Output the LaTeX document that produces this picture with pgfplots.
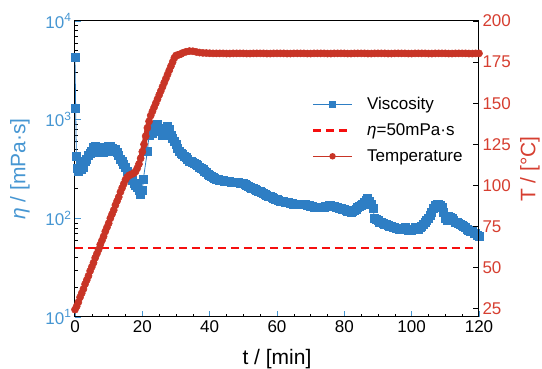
\documentclass[border=0pt]{standalone}
\usepackage{fontspec}
\setmainfont{Liberation Sans}
\usepackage{pgfplots}
\usepackage{pgfplotstable}
\pgfplotsset{compat=1.18}
\definecolor{vblue}{RGB}{46,126,196}
\definecolor{lblue}{RGB}{70,150,210}
\definecolor{tred}{RGB}{200,52,38}
\definecolor{lred}{RGB}{214,62,48}
\definecolor{dred}{RGB}{245,15,15}

\pgfplotstableread{
t eta
0 4300
0.2 1300
0.4 420
0.6 320
1 300
1.5 340
2 310
2.5 330
3 380
3.5 400
4 430
4.5 460
5 480
5.5 520
6 540
6.5 500
7 470
7.5 520
8 500
8.5 470
9 480
9.5 520
10 540
10.5 530
11 510
11.5 480
12 500
12.5 470
13 430
13.5 400
14 380
14.5 350
15 330
15.5 300
16 280
16.5 260
17 240
17.5 225
18 215
18.5 205
19 190
19.5 175
20 190
20.3 250
21.5 480
22 700
22.5 780
23 720
23.5 850
24 880
24.5 900
25 820
25.5 760
26 700
26.5 780
27 820
27.5 850
28 800
28.5 700
29 640
29.5 600
30 560
30.5 510
31 480
31.5 460
32 440
32.5 425
33 410
33.5 395
34 380
34.5 375
35 370
35.5 360
36 350
36.5 340
37 330
37.5 320
38 310
38.5 300
39 290
39.5 280
40 270
40.5 265
41 260
41.5 255
42 250
42.5 248
43 245
43.5 242
44 240
44.5 239
45 238
45.5 236
46 235
46.5 233
47 232
47.5 231
48 230
48.5 229
49 228
49.5 227
50 225
50.5 220
51 215
51.5 210
52 205
52.5 202
53 200
53.5 196
54 192
54.5 189
55 186
55.5 183
56 180
56.5 176
57 172
57.5 168
58 165
58.5 162
59 160
59.5 157
60 155
60.5 152
61 150
61.5 149
62 148
62.5 146
63 145
63.5 144
64 143
64.5 141
65 140
65.5 140
66 140
66.5 139
67 138
67.5 138
68 138
68.5 137
69 136
69.5 134
70 133
70.5 131
71 130
71.5 129
72 128
72.5 128
73 128
73.5 129
74 130
74.5 131
75 133
75.5 134
76 135
76.5 133
77 132
77.5 130
78 128
78.5 126
79 125
79.5 123
80 122
80.5 120
81 118
81.5 117
82 116
82.5 118
83 120
83.5 124
84 128
84.5 131
85 135
85.5 140
86 145
86.5 152
87 160
87.5 150
88 140
88.5 125
89 100
89.5 97
90 95
90.5 92
91 90
91.5 88
92 87
92.5 86
93 85
93.5 83
94 82
94.5 81
95 80
95.5 79
96 79
96.5 78
97 78
97.5 79
98 80
98.5 77
99 75
99.5 75
100 76
100.5 78
101 80
101.5 79
102 78
102.5 80
103 82
103.5 86
104 90
104.5 95
105 100
105.5 107
106 115
106.5 125
107 135
107.5 138
108 140
108.5 135
109 130
109.5 115
110 100
110.5 95
111 105
111.5 102
112 100
112.5 96
113 92
113.5 90
114 88
114.5 86
115 85
115.5 82
116 80
116.5 77
117 75
117.5 74
118 73
118.5 71
119 70
119.5 67
120 65
}\visc

\pgfplotstableread{
t T
0 24.5
0.5 26.5
1 29
1.5 32
2 34.5
2.5 37
3 40
3.5 42.5
4 45
4.5 48
5 50.5
5.5 53
6 56
6.5 58.5
7 61
7.5 64
8 66.5
8.5 69
9 72
9.5 74.5
10 77
10.5 80
11 82.5
11.5 85
12 88
12.5 90.5
13 93
13.5 96
14 98.5
14.5 101
15 103.5
15.5 105
16 106
16.5 106.5
17 107
17.5 107.5
18 108.5
18.5 110.5
19 113
19.5 116.5
20 120.5
20.5 125
21 130
21.5 135
22 139
22.5 142.5
23 145
23.5 147.5
24 150
24.5 152.5
25 155
25.5 157.5
26 160
26.5 162.5
27 165
27.5 167.5
28 170
28.5 172.5
29 175
29.5 177.5
30 179
30.5 179.3
31 179.6
31.5 180
32 180.6
33 181.3
34 181.7
35 181.6
36 181.2
37 180.8
38 180.6
39 180.5
40 180.4
41 180.3
42 180.3
43 180.3
44 180.3
45 180.2
46 180.2
47 180.3
48 180.3
49 180.3
50 180.3
51 180.2
52 180.2
53 180.3
54 180.3
55 180.3
56 180.3
57 180.2
58 180.2
59 180.3
60 180.3
61 180.3
62 180.3
63 180.2
64 180.2
65 180.3
66 180.3
67 180.3
68 180.3
69 180.2
70 180.2
71 180.3
72 180.3
73 180.3
74 180.3
75 180.2
76 180.2
77 180.3
78 180.3
79 180.3
80 180.3
81 180.2
82 180.2
83 180.3
84 180.3
85 180.3
86 180.3
87 180.2
88 180.2
89 180.3
90 180.3
91 180.3
92 180.3
93 180.2
94 180.2
95 180.3
96 180.3
97 180.3
98 180.3
99 180.2
100 180.2
101 180.3
102 180.3
103 180.3
104 180.3
105 180.2
106 180.2
107 180.3
108 180.3
109 180.3
110 180.3
111 180.2
112 180.2
113 180.3
114 180.3
115 180.3
116 180.3
117 180.2
118 180.2
119 180.3
120 180.3
}\temp

\begin{document}
\begin{tikzpicture}
\useasboundingbox (-75pt,-52pt) rectangle (467pt,317pt);
\begin{axis}[
  scale only axis, width=404pt, height=296pt, at={(0,0)}, anchor=south west,
  xmin=0, xmax=120, ymode=log, ymin=10, ymax=10000,
  xtick={0,20,...,120}, minor x tick num=3,
  ytick={10,100,1000,10000},
  yticklabels={10\textsuperscript{1},10\textsuperscript{2},10\textsuperscript{3},10\textsuperscript{4}},
  xtick pos=bottom, ytick pos=left,
  tick align=inside,
  major tick length=6pt, minor tick length=3.5pt,
  major tick style={lblue, line width=0.8pt},
  minor tick style={black, line width=0.6pt},
  axis line style={black, line width=1pt},
  /pgf/number format/assume math mode=true,
  ticklabel style={font=\fontsize{17}{20}\selectfont},
  yticklabel style={lblue},
  xlabel={t / [min]}, ylabel={\textit{η} / [mPa·s]},
  label style={font=\fontsize{21}{25}\selectfont},
  ylabel style={lblue, at={(axis description cs:-0.136,0.5)}, anchor=center},
  xlabel style={at={(axis description cs:0.5,-0.143)}, anchor=center},
  legend style={at={(rel axis cs:0.586,0.749)}, anchor=north west, draw=none, fill=none,
    font=\fontsize{17}{20}\selectfont, row sep=8.5pt, inner sep=0pt, cells={anchor=west},
    /tikz/every odd column/.append style={column sep=12pt}},
  legend image code/.code={\draw[mark repeat=2,mark phase=2,#1] plot coordinates {(0pt,0pt) (19.5pt,0pt) (39pt,0pt)};},
]
\addlegendimage{vblue, line width=1.2pt, mark=square*, mark size=2.8pt, mark options={solid}}
\addlegendentry{Viscosity}
\addlegendimage{dred, line width=2.2pt, dash pattern=on 7.5pt off 5.5pt}
\addlegendentry{\textit{η}=50mPa·s}
\addlegendimage{tred, line width=1.2pt, mark=*, mark size=2.6pt, mark options={solid}}
\addlegendentry{Temperature}
\addplot[forget plot, vblue, line width=0.8pt, mark=square*, mark size=4pt] table[x=t,y=eta] {\visc};
\addplot[forget plot, dred, line width=2.2pt, dash pattern=on 8pt off 5pt] coordinates {(0,50) (120,50)};
\end{axis}
\begin{axis}[
  scale only axis, width=404pt, height=296pt, at={(0,0)}, anchor=south west,
  xmin=0, xmax=120, ymin=20, ymax=200,
  axis x line=none, axis y line*=right,
  ytick={25,50,...,200},
  tick align=inside, major tick length=6pt,
  major tick style={black, line width=0.8pt},
  axis line style={black, line width=1pt},
  /pgf/number format/assume math mode=true,
  yticklabel style={lred, font=\fontsize{17}{20}\selectfont},
  ylabel={T / [°C]},
  ylabel style={lred, font=\fontsize{21}{25}\selectfont, at={(axis description cs:1.126,0.5)}, anchor=center},
]
\addplot[tred, line width=5pt, mark=*, mark size=3.6pt, mark options={line width=0.5pt}] table[x=t,y=T] {\temp};
\end{axis}
\end{tikzpicture}
\end{document}
